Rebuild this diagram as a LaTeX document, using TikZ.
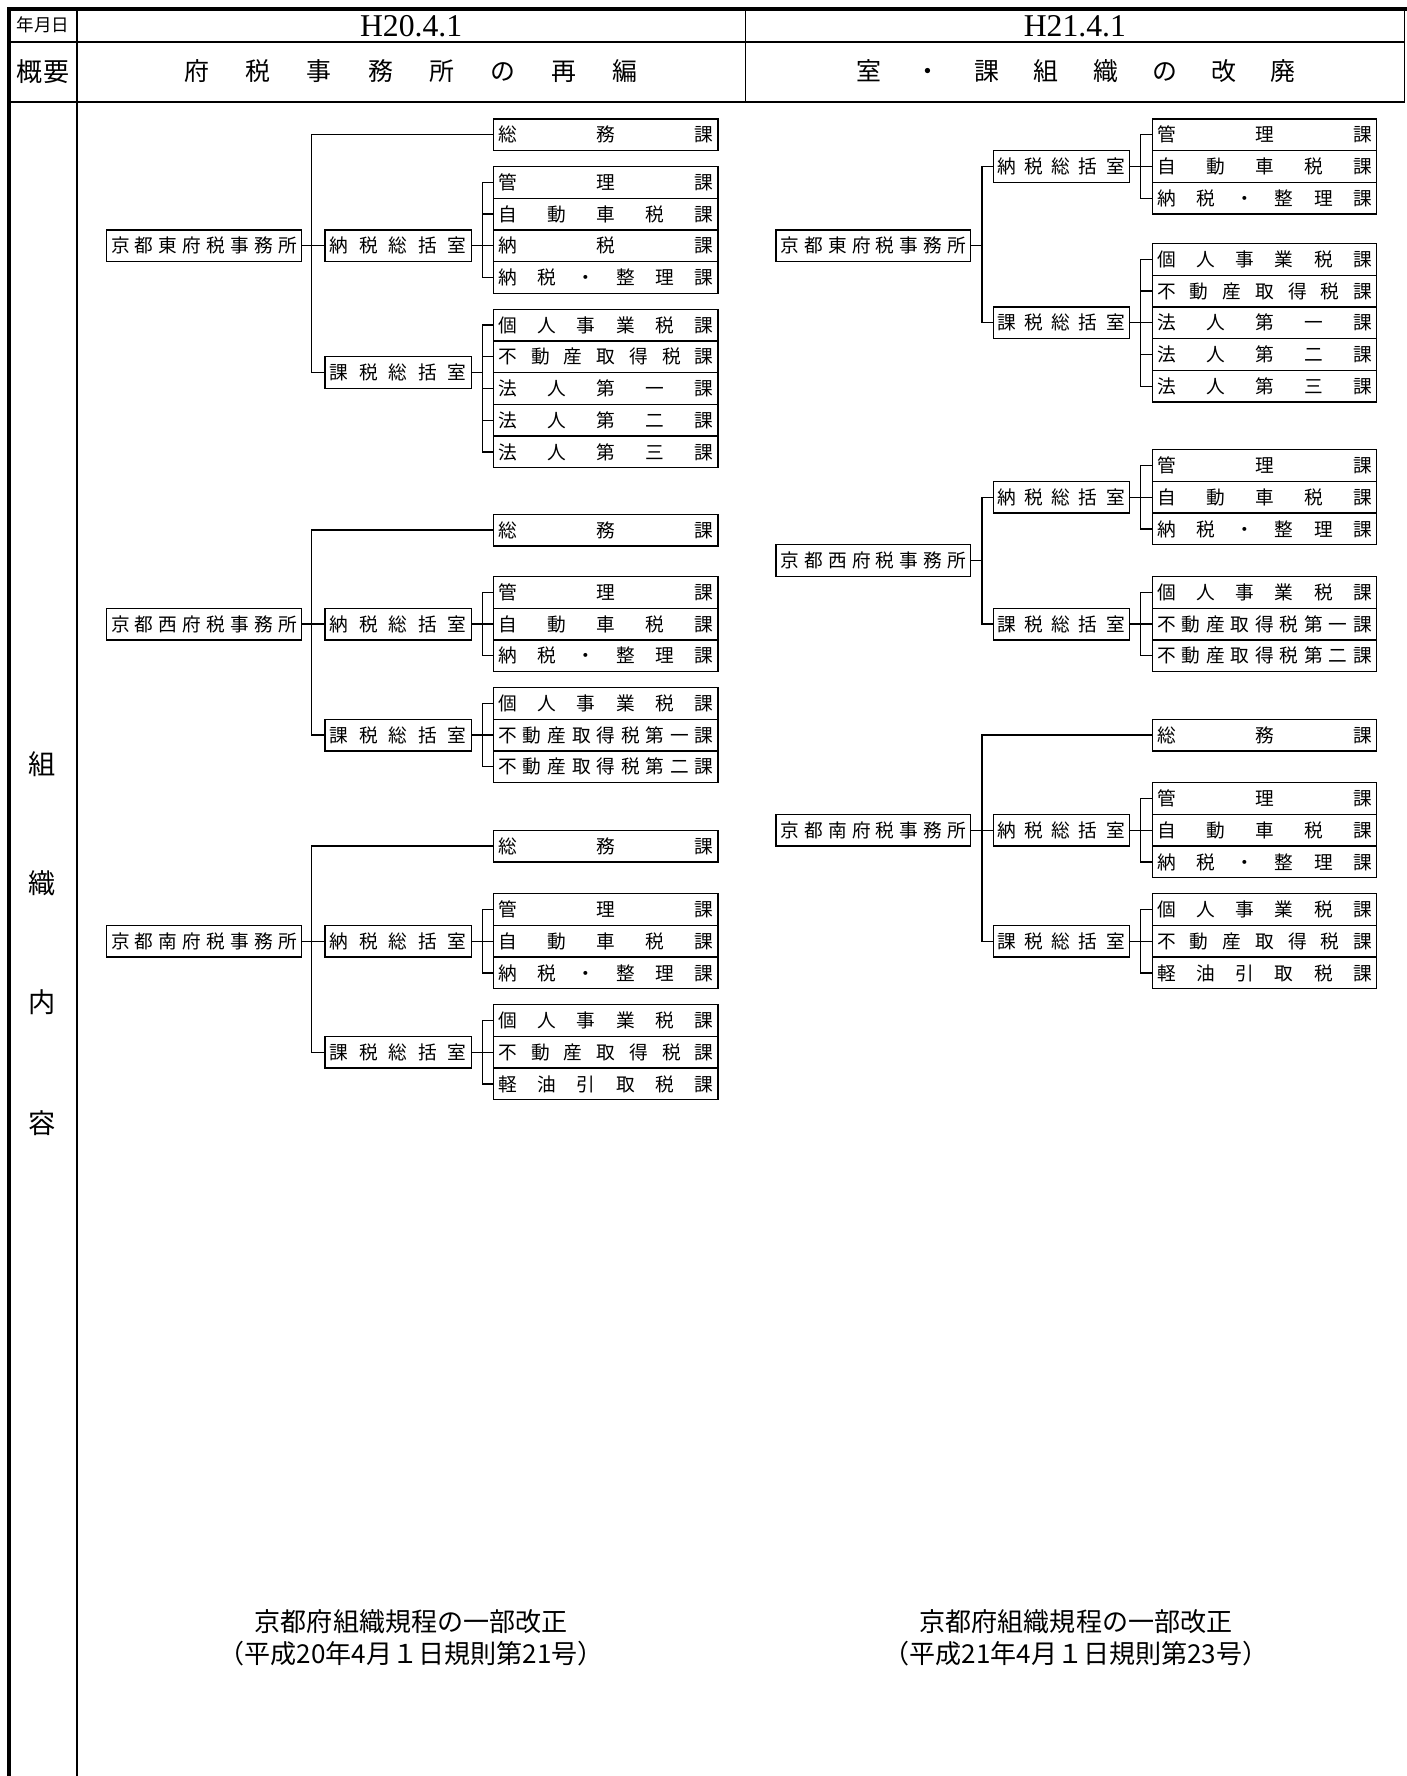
\documentclass[tikz,border=0pt]{standalone}
\usepackage{fontspec}
\setmainfont{Noto Sans CJK JP}
\newfontfamily\kHdrSerif{Liberation Serif}
\newcommand{\kSize}[1]{\fontsize{#1}{#1}\selectfont}
\newcommand{\kCell}[2]{\makebox[#1pt][s]{#2}}

\begin{document}
\begin{tikzpicture}[x=1pt,y=-1pt,
  ka/.style={draw, line width=1.1pt, inner sep=0pt, minimum height=28pt, font=\kSize{16.5}},
  office/.style={ka, minimum width=172pt},
  shitsuL/.style={ka, minimum width=129pt},
  shitsuR/.style={ka, minimum width=120pt},
  kaBox/.style={ka, minimum width=198pt},
  link/.style={line width=1.1pt},
  gridline/.style={line width=1.2pt},
  frameline/.style={line width=3pt}]
\useasboundingbox (0,0) rectangle (1242,1568);

% table
\draw[frameline] (8,1568) -- (8,8) -- (1242,8);
\draw[gridline] (8,37) -- (1240,37);
\draw[gridline] (8,90) -- (1240,90);
\draw[gridline] (1240,8) -- (1240,90);
\draw[gridline] (68,8) -- (68,1568);
\draw[gridline] (658,8) -- (658,90);

\node (hDate) at (38,22) {\kSize{15.5}年月日};
\node (hDateL) at (363,23) {\kHdrSerif\kSize{28}H20.4.1};
\node (hDateR) at (949,23) {\kHdrSerif\kSize{28}H21.4.1};
\node (hSum) at (38,63) {\kSize{23}概要};
\node (hSumL) at (363,63) {\kSize{22}\kCell{400}{府 税 事 務 所 の 再 編}};
\node (hSumR) at (950,63) {\kSize{22}\kCell{388}{室 ・ 課 組 織 の 改 廃}};
\node (vSo) at (37,675) {\kSize{24}組};
\node (vShiki) at (37,780) {\kSize{24}織};
\node (vNai) at (37,885) {\kSize{24}内};
\node (vYou) at (37,992) {\kSize{24}容};

% H20 east
\node[office] (LeOff) at (180,217) {\kCell{164}{京 都 東 府 税 事 務 所}};
\node[kaBox] (LeSoumu) at (535,119) {\kCell{190}{総 務 課}};
\node[shitsuL] (LeNou) at (351.5,217) {\kCell{121}{納 税 総 括 室}};
\node[shitsuL] (LeKaz) at (351.5,329) {\kCell{121}{課 税 総 括 室}};
\node[kaBox] (LeN1) at (535,161) {\kCell{190}{管 理 課}};
\node[kaBox] (LeN2) at (535,189) {\kCell{190}{自 動 車 税 課}};
\node[kaBox] (LeN3) at (535,217) {\kCell{190}{納 税 課}};
\node[kaBox] (LeN4) at (535,245) {\kCell{190}{納 税 ・ 整 理 課}};
\node[kaBox] (LeK1) at (535,287) {\kCell{190}{個 人 事 業 税 課}};
\node[kaBox] (LeK2) at (535,315) {\kCell{190}{不 動 産 取 得 税 課}};
\node[kaBox] (LeK3) at (535,343) {\kCell{190}{法 人 第 一 課}};
\node[kaBox] (LeK4) at (535,371) {\kCell{190}{法 人 第 二 課}};
\node[kaBox] (LeK5) at (535,399) {\kCell{190}{法 人 第 三 課}};
\coordinate (LeT) at (275,217);
\coordinate (LeNb) at (426,217);
\coordinate (LeKb) at (426,329);
\foreach \n in {LeSoumu,LeNou,LeKaz} \draw[link] (LeOff.east) -- (LeT) |- (\n.west);
\foreach \n in {LeN1,LeN2,LeN3,LeN4} \draw[link] (LeNou.east) -- (LeNb) |- (\n.west);
\foreach \n in {LeK1,LeK2,LeK3,LeK4,LeK5} \draw[link] (LeKaz.east) -- (LeKb) |- (\n.west);

% H20 west
\node[office] (LwOff) at (180,551) {\kCell{164}{京 都 西 府 税 事 務 所}};
\node[kaBox] (LwSoumu) at (535,468) {\kCell{190}{総 務 課}};
\node[shitsuL] (LwNou) at (351.5,551) {\kCell{121}{納 税 総 括 室}};
\node[shitsuL] (LwKaz) at (351.5,649) {\kCell{121}{課 税 総 括 室}};
\node[kaBox] (LwN1) at (535,523) {\kCell{190}{管 理 課}};
\node[kaBox] (LwN2) at (535,551) {\kCell{190}{自 動 車 税 課}};
\node[kaBox] (LwN3) at (535,579) {\kCell{190}{納 税 ・ 整 理 課}};
\node[kaBox] (LwK1) at (535,621) {\kCell{190}{個 人 事 業 税 課}};
\node[kaBox] (LwK2) at (535,649) {\kCell{190}{不 動 産 取 得 税 第 一 課}};
\node[kaBox] (LwK3) at (535,677) {\kCell{190}{不 動 産 取 得 税 第 二 課}};
\coordinate (LwT) at (275,551);
\coordinate (LwNb) at (426,551);
\coordinate (LwKb) at (426,649);
\foreach \n in {LwSoumu,LwNou,LwKaz} \draw[link] (LwOff.east) -- (LwT) |- (\n.west);
\foreach \n in {LwN1,LwN2,LwN3} \draw[link] (LwNou.east) -- (LwNb) |- (\n.west);
\foreach \n in {LwK1,LwK2,LwK3} \draw[link] (LwKaz.east) -- (LwKb) |- (\n.west);

% H20 south
\node[office] (LsOff) at (180,831) {\kCell{164}{京 都 南 府 税 事 務 所}};
\node[kaBox] (LsSoumu) at (535,747) {\kCell{190}{総 務 課}};
\node[shitsuL] (LsNou) at (351.5,831) {\kCell{121}{納 税 総 括 室}};
\node[shitsuL] (LsKaz) at (351.5,929) {\kCell{121}{課 税 総 括 室}};
\node[kaBox] (LsN1) at (535,803) {\kCell{190}{管 理 課}};
\node[kaBox] (LsN2) at (535,831) {\kCell{190}{自 動 車 税 課}};
\node[kaBox] (LsN3) at (535,859) {\kCell{190}{納 税 ・ 整 理 課}};
\node[kaBox] (LsK1) at (535,901) {\kCell{190}{個 人 事 業 税 課}};
\node[kaBox] (LsK2) at (535,929) {\kCell{190}{不 動 産 取 得 税 課}};
\node[kaBox] (LsK3) at (535,957) {\kCell{190}{軽 油 引 取 税 課}};
\coordinate (LsT) at (275,831);
\coordinate (LsNb) at (426,831);
\coordinate (LsKb) at (426,929);
\foreach \n in {LsSoumu,LsNou,LsKaz} \draw[link] (LsOff.east) -- (LsT) |- (\n.west);
\foreach \n in {LsN1,LsN2,LsN3} \draw[link] (LsNou.east) -- (LsNb) |- (\n.west);
\foreach \n in {LsK1,LsK2,LsK3} \draw[link] (LsKaz.east) -- (LsKb) |- (\n.west);

% H21 east
\node[office] (ReOff) at (771,217) {\kCell{164}{京 都 東 府 税 事 務 所}};
\node[shitsuR] (ReNou) at (937,147) {\kCell{112}{納 税 総 括 室}};
\node[shitsuR] (ReKaz) at (937,285) {\kCell{112}{課 税 総 括 室}};
\node[kaBox] (ReN1) at (1116.5,119) {\kCell{190}{管 理 課}};
\node[kaBox] (ReN2) at (1116.5,147) {\kCell{190}{自 動 車 税 課}};
\node[kaBox] (ReN3) at (1116.5,175) {\kCell{190}{納 税 ・ 整 理 課}};
\node[kaBox] (ReK1) at (1116.5,229) {\kCell{190}{個 人 事 業 税 課}};
\node[kaBox] (ReK2) at (1116.5,257) {\kCell{190}{不 動 産 取 得 税 課}};
\node[kaBox] (ReK3) at (1116.5,285) {\kCell{190}{法 人 第 一 課}};
\node[kaBox] (ReK4) at (1116.5,313) {\kCell{190}{法 人 第 二 課}};
\node[kaBox] (ReK5) at (1116.5,341) {\kCell{190}{法 人 第 三 課}};
\coordinate (ReT) at (867,217);
\coordinate (ReNb) at (1007,147);
\coordinate (ReKb) at (1007,285);
\foreach \n in {ReNou,ReKaz} \draw[link] (ReOff.east) -- (ReT) |- (\n.west);
\foreach \n in {ReN1,ReN2,ReN3} \draw[link] (ReNou.east) -- (ReNb) |- (\n.west);
\foreach \n in {ReK1,ReK2,ReK3,ReK4,ReK5} \draw[link] (ReKaz.east) -- (ReKb) |- (\n.west);

% H21 west
\node[office] (RwOff) at (771,495) {\kCell{164}{京 都 西 府 税 事 務 所}};
\node[shitsuR] (RwNou) at (937,439) {\kCell{112}{納 税 総 括 室}};
\node[shitsuR] (RwKaz) at (937,551) {\kCell{112}{課 税 総 括 室}};
\node[kaBox] (RwN1) at (1116.5,411) {\kCell{190}{管 理 課}};
\node[kaBox] (RwN2) at (1116.5,439) {\kCell{190}{自 動 車 税 課}};
\node[kaBox] (RwN3) at (1116.5,467) {\kCell{190}{納 税 ・ 整 理 課}};
\node[kaBox] (RwK1) at (1116.5,523) {\kCell{190}{個 人 事 業 税 課}};
\node[kaBox] (RwK2) at (1116.5,551) {\kCell{190}{不 動 産 取 得 税 第 一 課}};
\node[kaBox] (RwK3) at (1116.5,579) {\kCell{190}{不 動 産 取 得 税 第 二 課}};
\coordinate (RwT) at (867,495);
\coordinate (RwNb) at (1007,439);
\coordinate (RwKb) at (1007,551);
\foreach \n in {RwNou,RwKaz} \draw[link] (RwOff.east) -- (RwT) |- (\n.west);
\foreach \n in {RwN1,RwN2,RwN3} \draw[link] (RwNou.east) -- (RwNb) |- (\n.west);
\foreach \n in {RwK1,RwK2,RwK3} \draw[link] (RwKaz.east) -- (RwKb) |- (\n.west);

% H21 south
\node[office] (RsOff) at (771,733) {\kCell{164}{京 都 南 府 税 事 務 所}};
\node[kaBox] (RsSoumu) at (1116.5,649) {\kCell{190}{総 務 課}};
\node[shitsuR] (RsNou) at (937,733) {\kCell{112}{納 税 総 括 室}};
\node[shitsuR] (RsKaz) at (937,831) {\kCell{112}{課 税 総 括 室}};
\node[kaBox] (RsN1) at (1116.5,705) {\kCell{190}{管 理 課}};
\node[kaBox] (RsN2) at (1116.5,733) {\kCell{190}{自 動 車 税 課}};
\node[kaBox] (RsN3) at (1116.5,761) {\kCell{190}{納 税 ・ 整 理 課}};
\node[kaBox] (RsK1) at (1116.5,803) {\kCell{190}{個 人 事 業 税 課}};
\node[kaBox] (RsK2) at (1116.5,831) {\kCell{190}{不 動 産 取 得 税 課}};
\node[kaBox] (RsK3) at (1116.5,859) {\kCell{190}{軽 油 引 取 税 課}};
\coordinate (RsT) at (867,733);
\coordinate (RsNb) at (1007,733);
\coordinate (RsKb) at (1007,831);
\foreach \n in {RsSoumu,RsNou,RsKaz} \draw[link] (RsOff.east) -- (RsT) |- (\n.west);
\foreach \n in {RsN1,RsN2,RsN3} \draw[link] (RsNou.east) -- (RsNb) |- (\n.west);
\foreach \n in {RsK1,RsK2,RsK3} \draw[link] (RsKaz.east) -- (RsKb) |- (\n.west);

% notes
\node[font=\kSize{23}] (noteL1) at (363,1432) {京都府組織規程の一部改正};
\node[font=\kSize{23}] (noteL2) at (363,1460) {（平成20年4月１日規則第21号）};
\node[font=\kSize{23}] (noteR1) at (950,1432) {京都府組織規程の一部改正};
\node[font=\kSize{23}] (noteR2) at (950,1460) {（平成21年4月１日規則第23号）};
\end{tikzpicture}
\end{document}
